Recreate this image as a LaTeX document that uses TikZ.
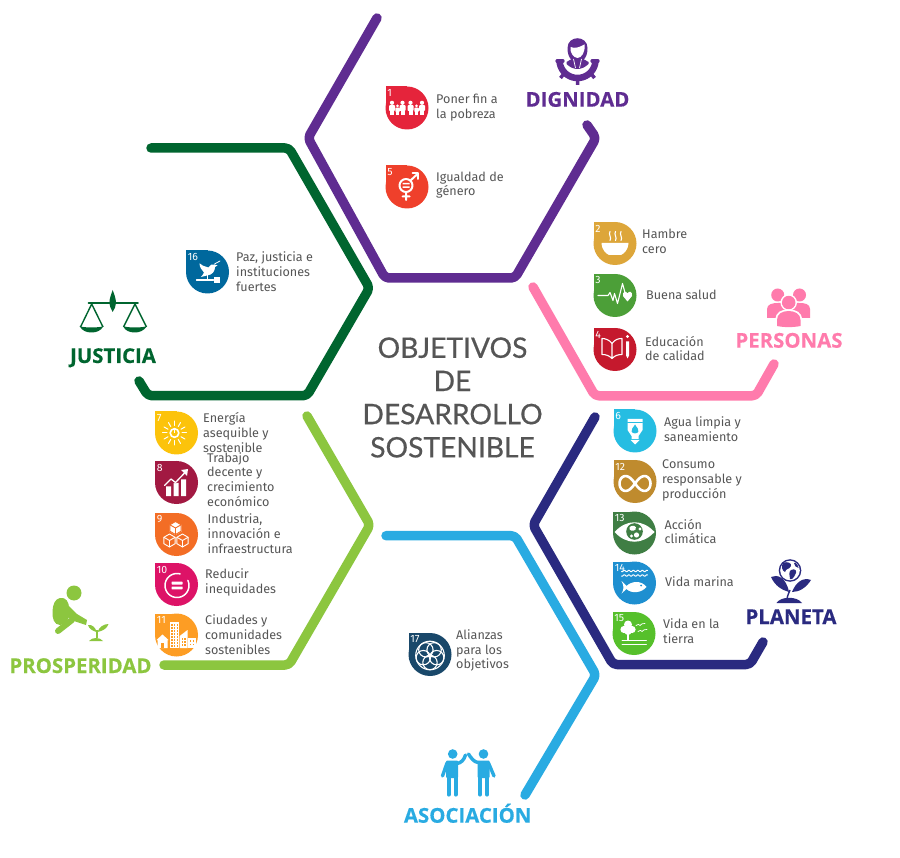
\documentclass[tikz,border=0pt]{standalone}
\usepackage{fontspec}
\setmainfont{Fira Sans}
\newfontfamily\titlefont[RawFeature={embolden=0.5}]{Lato}
\newfontfamily\groupfont[BoldFeatures={RawFeature={embolden=0.3}}]{Open Sans}
\definecolor{cpurple}{HTML}{5F2C91}
\definecolor{cpink}{HTML}{FF7BAC}
\definecolor{cnavy}{HTML}{2A2A80}
\definecolor{cdgreen}{HTML}{00652F}
\definecolor{clgreen}{HTML}{8CC63F}
\definecolor{cblue}{HTML}{29ABE2}
\definecolor{ctext}{HTML}{555555}
\definecolor{sa}{HTML}{E5243B}\definecolor{sb}{HTML}{DDA63A}\definecolor{sc}{HTML}{4C9F38}
\definecolor{sd}{HTML}{C5192D}\definecolor{se}{HTML}{EF402B}\definecolor{sf}{HTML}{26BDE2}
\definecolor{sg}{HTML}{FCC30B}\definecolor{sh}{HTML}{A21942}\definecolor{si}{HTML}{F36D25}
\definecolor{sj}{HTML}{DD1367}\definecolor{sk}{HTML}{FD9D24}\definecolor{sl}{HTML}{BF8B2E}
\definecolor{sm}{HTML}{3F7E44}\definecolor{sn}{HTML}{1E8FD0}\definecolor{so}{HTML}{56C02B}
\definecolor{sp}{HTML}{00689D}\definecolor{sq}{HTML}{19486A}
\tikzset{
  hexline/.style={line width=9.5pt,line cap=round,line join=round,rounded corners=4pt},
  goal/.style={anchor=west,inner sep=0pt,yshift=-0.5pt,align=left,text=ctext,font=\fontsize{12.6}{14.7}\selectfont},
  badgenum/.style={anchor=west,inner sep=0pt,text=white,font=\fontsize{10.5}{11}\selectfont},
  grouplabel/.style={anchor=base,inner sep=0pt,font=\groupfont\fontsize{20.4}{22}\selectfont\bfseries},
}
\newcommand{\sdgbadge}[6]{%
  \begin{scope}[shift={(#2,#3)}]
    \fill[#4] (0,0) circle (21.5);
    \fill[#4] (-21.5,-21.5) rectangle (0,0);
    \node[badgenum] (#1) at (-19.8,-15) {#5};
    \begin{scope}[white,line cap=round,line join=round]#6\end{scope}
  \end{scope}}
\newcommand{\sdgperson}[2]{%
  \begin{scope}[shift={(#1,7)},scale=#2]
    \fill (0,-12.2) circle (2.1);
    \fill[rounded corners=0.8pt] (-3,-9.8) rectangle (3,-4);
    \fill (-2,-4.5) rectangle (2,0);
  \end{scope}}
\newcommand{\sdgcube}[3]{%
  \begin{scope}[shift={(#1,#2)},line width=0.9pt,#3]
    \draw (0,-6.5) -- (5.6,-3.2) -- (5.6,3.2) -- (0,6.5) -- (-5.6,3.2) -- (-5.6,-3.2) -- cycle;
    \draw (-5.6,-3.2) -- (0,0) -- (5.6,-3.2) (0,0) -- (0,6.5);
  \end{scope}}
\begin{document}
\begin{tikzpicture}[x=1pt,y=-1pt]
\useasboundingbox (0,0) rectangle (900,858);
\fill[white] (0,0) rectangle (900,858);

% hexagon lines
\draw[hexline,cpurple] (377,18) -- (308,138) -- (385,278) -- (515,278) -- (596,138) -- (587,125);
\draw[hexline,cpink] (533,287) -- (595,395.8) -- (756,395.8) -- (774,364);
\draw[hexline,cnavy] (595,417) -- (533,525) -- (613,664.5) -- (750,664.5) -- (763,642);
\draw[hexline,cblue] (386,535.7) -- (515,535.7) -- (596,675) -- (525,795);
\draw[hexline,clgreen] (307,416) -- (370,525) -- (289,665) -- (164,665);
\draw[hexline,cdgreen] (151,148) -- (289,148) -- (369.5,288) -- (307,395.7) -- (148,395.7) -- (139,381);

% centre title
\node[inner sep=0pt,align=center,text=ctext,font=\titlefont\fontsize{28.2}{33.2}\selectfont] (title) at (452.5,397.5) {OBJETIVOS\\DE\\DESARROLLO\\SOSTENIBLE};

% badges
\sdgbadge{b1}{407}{108}{sa}{1}{%
  \foreach \px/\ps in {-15/1,-9.5/0.75,-4.5/1,3.5/1,9.5/0.75,15/1} {\sdgperson{\px}{\ps}}}
\sdgbadge{b5}{407}{187}{se}{5}{%
  \draw[line width=2pt] (-1,-1.5) circle (6.5);
  \draw[line width=2pt] (-1,5) -- (-1,13) (-4.5,9.5) -- (2.5,9.5) (3.5,-6.5) -- (10.5,-13);
  \draw[line width=2pt] (5.5,-13.5) -- (11,-13.5) -- (11,-8);
  \fill (-4.5,-4) rectangle (2.5,-2.6) (-4.5,-0.6) rectangle (2.5,0.8);}
\sdgbadge{b2}{615}{243.5}{sb}{2}{%
  \fill (-13.5,-0.5) -- (13.5,-0.5) .. controls (13,7) and (9,10) .. (6,11.5) -- (-6,11.5) .. controls (-9,10) and (-13,7) .. cycle;
  \draw[line width=1.1pt] (-5,-12) .. controls (-7,-9) and (-3,-6) .. (-5,-3)
    (0.5,-12) .. controls (-1.5,-9) and (2.5,-6) .. (0.5,-3)
    (6,-12) .. controls (4,-9) and (8,-6) .. (6,-3);}
\sdgbadge{b3}{615}{295.5}{sc}{3}{%
  \draw[line width=1.1pt] (-17,0) -- (-7,0) -- (-5,-3) -- (-2,5) -- (-0.5,-2) -- (2.5,8) -- (7.5,-12) -- (10.5,-1);
  \fill (12.5,6) -- (8,0.5) .. controls (7,-4) and (11,-5) .. (12.5,-2) .. controls (14,-5) and (18,-4) .. (17,0.5) -- cycle;}
\sdgbadge{b4}{615}{349.5}{sd}{4}{%
  \draw[line width=1.1pt] (-3,-6) .. controls (-6,-10) and (-10,-11) .. (-13,-11) -- (-13,5) .. controls (-9,5) and (-6,6) .. (-3,9) .. controls (0,6) and (3,5) .. (7,5) -- (7,-11) .. controls (3,-11) and (0,-10) .. (-3,-6) -- (-3,9);
  \fill (11,-8) rectangle (14,6) (12.5,-13) circle (1.6) (11,6) -- (14,6) -- (12.5,9) -- cycle;}
\sdgbadge{b6}{635}{431}{sf}{6}{%
  \fill (-7.5,-12) -- (7.5,-12) -- (7.5,-1) -- (3.5,5) -- (3.5,8) -- (-3.5,8) -- (-3.5,5) -- (-7.5,-1) -- cycle;
  \fill (-4.5,9) -- (4.5,9) -- (0,13.5) -- cycle;
  \draw[sf,line width=0.8pt] (-7.5,-9) -- (7.5,-9);
  \fill[sf] (0,-6.5) .. controls (2,-3) and (4,-2) .. (3.4,0.5) .. controls (2.8,3) and (-2.8,3) .. (-3.4,0.5) .. controls (-4,-2) and (-2,-3) .. cycle;}
\sdgbadge{b12}{635}{481.5}{sl}{12}{%
  \draw[line width=2.6pt,smooth] plot[domain=0:360,samples=60] ({15.5*cos(\x)/(1+sin(\x)*sin(\x))},{2+21*sin(\x)*cos(\x)/(1+sin(\x)*sin(\x))});}
\sdgbadge{b13}{634.5}{533}{sm}{13}{%
  \fill (-20,-1) .. controls (-8,-14) and (8,-14) .. (20,-1) .. controls (8,12) and (-8,12) .. cycle;
  \fill[sm] (0,-1.5) circle (8.3);
  \fill (-5,-6) .. controls (-2,-8.5) and (3,-7) .. (1,-3.5) .. controls (-1,-1) and (-6,-2) .. cycle;
  \fill (2,2) circle (2.6) (5.5,-4) circle (1.7) (-3,3) circle (1.6);}
\sdgbadge{b14}{634.5}{583}{sn}{14}{%
  \foreach \wy in {-12,-7.5} {\draw[line width=1pt,smooth] plot[domain=-13:13,samples=30] (\x,{\wy+0.8*sin(\x*80)});}
  \fill (12,4) .. controls (7,-3) and (-3,-2) .. (-8,3) -- (-13,-2) .. controls (-12,0) and (-11,2) .. (-11,4.5) .. controls (-11,7) and (-12,9) .. (-13,10.5) -- (-8,6) .. controls (-3,11) and (7,10) .. cycle;
  \fill[sn] (6.5,2.5) circle (1);}
\sdgbadge{b15}{634}{633.5}{so}{15}{%
  \fill (-6,-9) circle (4) (-10,-4) circle (3.6) (-2,-4) circle (3.6) (-6,-2) circle (3.5);
  \fill (-7,-2) rectangle (-5,6);
  \draw[line width=0.9pt] (-12,7) -- (12.5,7) (-12,10.5) -- (12.5,10.5);
  \draw[line width=0.7pt] (2,-8) .. controls (4,-10) and (5,-9) .. (6,-8) .. controls (7,-10) and (9,-10) .. (11,-10)
     (4,-2) .. controls (6,-4) and (7,-3) .. (8,-2) .. controls (9,-4) and (11,-4) .. (13,-4);}
\sdgbadge{b7}{176.5}{433}{sg}{7}{%
  \draw[line width=1.6pt] (-2,0) circle (4.3);
  \fill (-2.6,-3.5) rectangle (-1.4,0);
  \foreach \a in {0,30,...,330} {\draw[line width=1pt] ({-2+7.5*cos(\a)},{7.5*sin(\a)}) -- ({-2+12*cos(\a)},{12*sin(\a)});}}
\sdgbadge{b8}{176.5}{482.5}{sh}{8}{%
  \fill (-10.5,4) rectangle (-5.5,13.5) (-3,0.5) rectangle (2,13.5) (4.5,-3) rectangle (9.5,13.5);
  \draw[sh,line width=3pt] (-13,3) -- (-5.5,-4) -- (-1,-0.5) -- (8,-10);
  \draw[line width=1.3pt] (-12,3) -- (-5.5,-3.5) -- (-1,0) -- (9,-10.5);
  \fill (11.5,-13.5) -- (4.5,-12.5) -- (10.5,-6.5) -- cycle;}
\sdgbadge{b9}{176.5}{534.5}{si}{9}{%
  \fill (-1,-13) -- (5,-9.5) -- (5,-3) -- (-1,0.5) -- (-7,-3) -- (-7,-9.5) -- cycle;
  \sdgcube{-1}{-6.5}{si}
  \sdgcube{-7}{6}{white}
  \sdgcube{6}{6}{white}}
\sdgbadge{b10}{176.5}{584.5}{sj}{10}{%
  \draw[line width=1.5pt] plot[smooth,domain=-25:285,samples=40] ({0.5+12*cos(\x)},{1+12*sin(\x)});
  \fill[rounded corners=0.5pt] (-5,-2.8) rectangle (6,0) (-5,2) rectangle (6,4.8);}
\sdgbadge{b11}{176.5}{635}{sk}{11}{%
  \fill (-7,-13) rectangle (2,13);
  \foreach \wx in {-5.5,-2.7,0} {\foreach \wy in {-11,-8,-5,-2,1,4,7,10} {\fill[sk] (\wx,\wy) rectangle ++(1.5,1.6);}}
  \fill (3.2,13) -- (3.2,1) -- (11,-5) -- (11,13) -- cycle;
  \foreach \wx in {5,7.8} {\foreach \wy in {3,6,9} {\fill[sk] (\wx,\wy) rectangle ++(1.5,1.6);}}
  \fill (11.8,3) rectangle (19,13);
  \foreach \wx in {13,16} {\foreach \wy in {5,8.5} {\fill[sk] (\wx,\wy) rectangle ++(1.5,1.6);}}
  \fill (-20,5) -- (-14,-0.5) -- (-8,5) -- (-9,5) -- (-9,13) -- (-19,13) -- (-19,5) -- cycle;
  \fill[sk] (-15.5,8) rectangle (-12.5,13);}
\sdgbadge{b16}{207.5}{272}{sp}{16}{%
  \fill (-8,-8.7) .. controls (-6,-6) and (-3,-6) .. (1,-4.5) .. controls (2,-7) and (5,-8.5) .. (7,-7.5) -- (10,-6.5) -- (7.5,-5) .. controls (7.5,-1) and (5,3) .. (-0.5,3.5) -- (-6.5,5) .. controls (-5,3) and (-4,2) .. (-3.5,0.5) .. controls (-6,-2) and (-8,-5) .. (-8,-8.7) -- cycle;
  \draw[line width=0.8pt] (7,-8) -- (12.5,-11);
  \draw[line width=1.3pt] (-11,8) -- (6,8) (0,3) -- (0,8);
  \fill (6,5) rectangle (12,11);}
\sdgbadge{b17}{430}{654.5}{sq}{17}{%
  \draw[line width=1.1pt] (0,1) circle (14.3);
  \foreach \a in {18,90,162,234,306} {\draw[line width=1.1pt] ({7*cos(\a)},{1+7*sin(\a)}) circle (7.2);}}

% goal texts
\node[goal] (t1) at (436,107) {Poner fin a\\la pobreza};
\node[goal] (t5) at (436,184.5) {Igualdad de\\género};
\node[goal] (t2) at (642,241) {Hambre\\cero};
\node[goal] (t3) at (646,294) {Buena salud};
\node[goal] (t4) at (645,348) {Educación\\de calidad};
\node[goal] (t6) at (664,429) {Agua limpia y\\saneamiento};
\node[goal] (t12) at (662,480) {Consumo\\responsable y\\producción};
\node[goal] (t13) at (664.5,531) {Acción\\climática};
\node[goal] (t14) at (665,581) {Vida marina};
\node[goal] (t15) at (663,631) {Vida en la\\tierra};
\node[goal] (t7) at (203,432) {Energía\\asequible y\\sostenible};
\node[goal] (t8) at (207,479) {Trabajo\\decente y\\crecimiento\\económico};
\node[goal] (t9) at (207.5,533) {Industria,\\innovación e\\infraestructura};
\node[goal] (t10) at (205,582) {Reducir\\inequidades};
\node[goal] (t11) at (205,634) {Ciudades y\\comunidades\\sostenibles};
\node[goal] (t16) at (236,271) {Paz, justicia e\\instituciones\\fuertes};
\node[goal] (t17) at (456,650) {Alianzas\\para los\\objetivos};

% group labels
\node[grouplabel,text=cpurple] (gd) at (577.5,106.7) {DIGNIDAD};
\node[grouplabel,text=cpink] (gp) at (789,347.7) {PERSONAS};
\node[grouplabel,text=cnavy] (gl) at (791,624) {PLANETA};
\node[grouplabel,text=cdgreen] (gj) at (113,363) {JUSTICIA};
\node[grouplabel,text=clgreen] (gr) at (80.5,673) {PROSPERIDAD};
\node[grouplabel,text=cblue] (ga) at (467.7,822.7) {ASOCIACIÓN};

% Dignidad icon
\begin{scope}[cpurple,line cap=round]
  \draw[line width=6.5pt,line cap=butt] plot[smooth,domain=0:180,samples=30] ({577.5+18*cos(\x)},{60+18*sin(\x)});
  \draw[line width=3.2pt] (557,61) -- (563,61) (592,61) -- (598,61);
  \draw[line width=3.5pt,line cap=butt] (577.5,78) -- (577.5,85) (564.5,73) -- (560.5,78) (590.5,73) -- (594.5,78);
  \fill (567.5,48) .. controls (567.5,35) and (587.5,35) .. (587.5,48) .. controls (587.5,54) and (586,58) .. (583,60) -- (572,60) .. controls (569,58) and (567.5,54) .. (567.5,48) -- cycle;
  \fill[white] (570.5,47) .. controls (575,49) and (580,47) .. (584.5,44.5) .. controls (585.5,52) and (581.5,58) .. (577.5,58) .. controls (573.5,58) and (569.5,52) .. (570.5,47) -- cycle;
  \fill (566.5,62) -- (572.5,58.5) -- (582.5,58.5) -- (588.5,62) -- (588.5,64) .. controls (585.5,67) and (581.5,69) .. (577.5,69) .. controls (573.5,69) and (569.5,67) .. (566.5,64) -- cycle;
  \draw[white,line width=0.7pt,line cap=butt] (573.5,59) -- (575.5,68) (581.5,59) -- (579.5,68);
\end{scope}

% Personas icon
\begin{scope}[cpink]
  \fill (777.7,295) circle (6.5) (799.5,295) circle (6.5);
  \fill (767,318) -- (767,309) .. controls (767,304) and (773,303) .. (778,303) -- (799,303) .. controls (805,303) and (810,304) .. (810,309) -- (810,318) -- cycle;
  \draw[white,line width=1.5pt] (788.7,302.5) circle (7.5);
  \fill (788.7,302.5) circle (6.7);
  \fill[white] (775.5,327) -- (775.5,320) .. controls (775.5,312) and (781,309.5) .. (788.7,309.5) .. controls (796,309.5) and (802,312) .. (802,320) -- (802,327) -- cycle;
  \fill (777,326) -- (777,320) .. controls (777,314) and (782,311) .. (788.7,311) .. controls (795,311) and (800.5,314) .. (800.5,320) -- (800.5,326) .. controls (793,327.5) and (784,327.5) .. (777,326) -- cycle;
\end{scope}

% Planeta icon
\begin{scope}[cnavy]
  \fill[cnavy] (790,570.5) circle (11.3);
  \fill[white] (790,570.5) circle (9.8);
  \fill (783,563) .. controls (787,561) and (792,563) .. (791,566) .. controls (789,570) and (786,568) .. (785,572) .. controls (782,571) and (781,566) .. (783,563) -- cycle;
  \fill (791,570) .. controls (795,568) and (798,571) .. (795,575) .. controls (794,578) and (791,580) .. (790,579) .. controls (790,576) and (788,572) .. (791,570) -- cycle;
  \fill (794,563) .. controls (796,562) and (798,565) .. (798.5,568) .. controls (796,567) and (794,566) .. (794,563) -- cycle;
  \fill (771,577) .. controls (777,574) and (786,577) .. (789,592) .. controls (782,590) and (775,586) .. (771,577) -- cycle;
  \fill (811,580) .. controls (803,577) and (796,582) .. (792,592) .. controls (799,592) and (806,588) .. (811,580) -- cycle;
  \draw[line width=1.4pt] (790,590) .. controls (789,593) and (787,596) .. (787,600);
  \fill (776.5,603) .. controls (781,596) and (797,596) .. (802,603) -- cycle;
\end{scope}

% Justicia icon
\begin{scope}[cdgreen]
  \fill (112.7,290) .. controls (114,294) and (116,298) .. (116,303) .. controls (116,306) and (114.5,309) .. (112.7,312) .. controls (110.9,309) and (109.4,306) .. (109.4,303) .. controls (109.4,298) and (111.4,294) .. (112.7,290) -- cycle;
  \draw[line width=1.8pt,line cap=round] (88.5,303.3) -- (138,303.3);
  \draw[line width=1.4pt] (80.5,327) -- (91.7,304) -- (103,327) (123.5,327) -- (135,304) -- (146.5,327);
  \fill (79.5,326) .. controls (83,328) and (100,328) .. (103.5,326) .. controls (101,331) and (96,332.5) .. (91.5,332.5) .. controls (87,332.5) and (82,331) .. (79.5,326) -- cycle;
  \fill (123,326) .. controls (127,328) and (143,328) .. (147,326) .. controls (144,331) and (139,332.5) .. (135,332.5) .. controls (130,332.5) and (125,331) .. (123,326) -- cycle;
\end{scope}

% Prosperidad icon
\begin{scope}[clgreen,line cap=round]
  \fill (74,593) circle (7.5);
  \fill (60,598) .. controls (66,597) and (69,602) .. (69,608) .. controls (71,618) and (66,625) .. (60,625) .. controls (54,625) and (52,618) .. (52.5,611) .. controls (53,604) and (55,599) .. (60,598) -- cycle;
  \fill (66,603) -- (77,614) -- (87,620) -- (86,625) -- (74,621) -- (64,615) -- cycle;
  \draw[line width=6pt] (58,631) -- (72,620);
  \fill (88,625) .. controls (92,624) and (96,628) .. (96.5,632) .. controls (93,631) and (89,629) .. (88,625) -- cycle;
  \fill (108.5,624) .. controls (104,624) and (99,627) .. (97.5,632) .. controls (102,631) and (107,629) .. (108.5,624) -- cycle;
  \draw[line width=1.3pt,line cap=butt] (97,630) -- (97,638);
  \fill (89,641) .. controls (92,637) and (100,637) .. (103,641) -- cycle;
\end{scope}

% Asociacion icon
\begin{scope}[cblue,line cap=round]
  \fill (452.7,754) circle (4.8) (483.5,754) circle (4.8);
  \fill[rounded corners=1pt] (446,760.5) -- (458,760.5) -- (458,778) -- (446,778) -- cycle;
  \fill[rounded corners=1pt] (477.5,760.5) -- (489.5,760.5) -- (489.5,778) -- (477.5,778) -- cycle;
  \draw[line width=4.2pt] (448.6,777) -- (448.6,794.5) (455.6,777) -- (455.6,794.5) (480,777) -- (480,794.5) (487,777) -- (487,794.5);
  \draw[line width=3.4pt] (447,763) -- (442.5,776) (457,763.5) .. controls (461,763) and (464,760) .. (465.5,755);
  \draw[line width=3.4pt] (488.5,763) -- (494,776) (478,762.5) .. controls (474,762) and (471,758) .. (468.5,754);
\end{scope}
\end{tikzpicture}
\end{document}
